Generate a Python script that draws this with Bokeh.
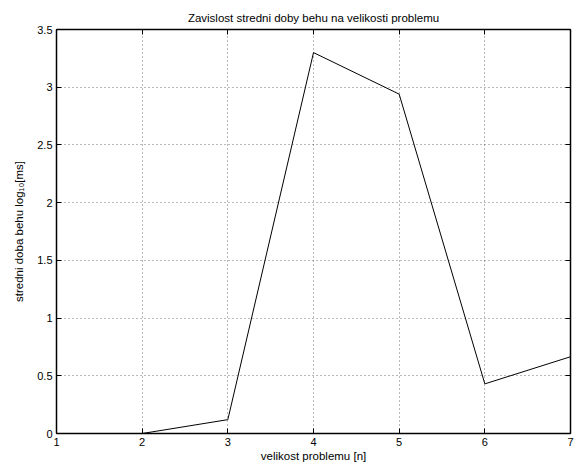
from bokeh.plotting import figure
from bokeh.models import LinearAxis, FixedTicker, Range1d, CustomJSTickFormatter
from bokeh.embed import file_html
from bokeh.resources import INLINE

problem_size = [1, 2, 3, 4, 5, 6, 7]
mean_runtime_log10 = [0.0, 0.0, 0.12, 3.30, 2.94, 0.43, 0.665]
x_ticks = [1, 2, 3, 4, 5, 6, 7]
y_ticks = [0, 0.5, 1, 1.5, 2, 2.5, 3, 3.5]
y_tick_labels = ["0", "0.5", "1", "1.5", "2", "2.5", "3", "3.5"]

FONT = "Liberation Sans"

p = figure(width=574, height=467, output_backend="svg", toolbar_location=None,
           x_range=Range1d(1, 7), y_range=Range1d(0, 3.5),
           title="Zavislost stredni doby behu na velikosti problemu",
           min_border_left=56, min_border_right=4, min_border_top=29, min_border_bottom=34)

p.title.align = "center"
p.title.text_font = FONT
p.title.text_font_size = "11.5px"
p.title.text_font_style = "normal"
p.title.text_color = "black"
p.title.standoff = 12

p.line(problem_size, mean_runtime_log10, line_color="black", line_width=1)

p.xaxis.ticker = FixedTicker(ticks=x_ticks)
p.yaxis.ticker = FixedTicker(ticks=y_ticks)
p.yaxis.major_label_overrides = {t: l for t, l in zip(y_ticks, y_tick_labels)}
p.xaxis.axis_label = "velikost problemu [n]"
p.yaxis.axis_label = "stredni doba behu log\u2081\u2080[ms]"

for ax in [p.xaxis[0], p.yaxis[0]]:
    ax.major_label_text_font = FONT
    ax.major_label_text_font_size = "11px"
    ax.major_label_text_color = "black"
    ax.axis_label_text_font = FONT
    ax.axis_label_text_font_size = "11.5px"
    ax.axis_label_text_font_style = "normal"
    ax.axis_label_text_color = "black"
    ax.major_label_standoff = 4
    ax.major_tick_in = 5
    ax.major_tick_out = 0
    ax.minor_tick_in = 0
    ax.minor_tick_out = 0
    ax.axis_line_width = 1.5
    ax.axis_line_color = "black"
    ax.major_tick_line_color = "black"
p.xaxis.axis_label_standoff = 1
p.yaxis.axis_label_standoff = 9

for loc, tk in [("right", y_ticks), ("above", x_ticks)]:
    a = LinearAxis(ticker=FixedTicker(ticks=tk),
                   formatter=CustomJSTickFormatter(code="return ''"),
                   major_tick_in=5, major_tick_out=0, minor_tick_in=0, minor_tick_out=0,
                   axis_line_width=1.5, axis_line_color="black", major_label_standoff=0)
    p.add_layout(a, loc)

p.xgrid.ticker = FixedTicker(ticks=x_ticks)
p.ygrid.ticker = FixedTicker(ticks=y_ticks)
for g in [p.xgrid[0], p.ygrid[0]]:
    g.grid_line_color = "black"
    g.grid_line_alpha = 0.55
    g.grid_line_dash = "1 3"
    g.grid_line_width = 1

p.outline_line_color = "black"
p.outline_line_width = 1
p.background_fill_color = "white"
p.border_fill_color = "white"

open("out.html", "w").write(file_html(p, INLINE))
